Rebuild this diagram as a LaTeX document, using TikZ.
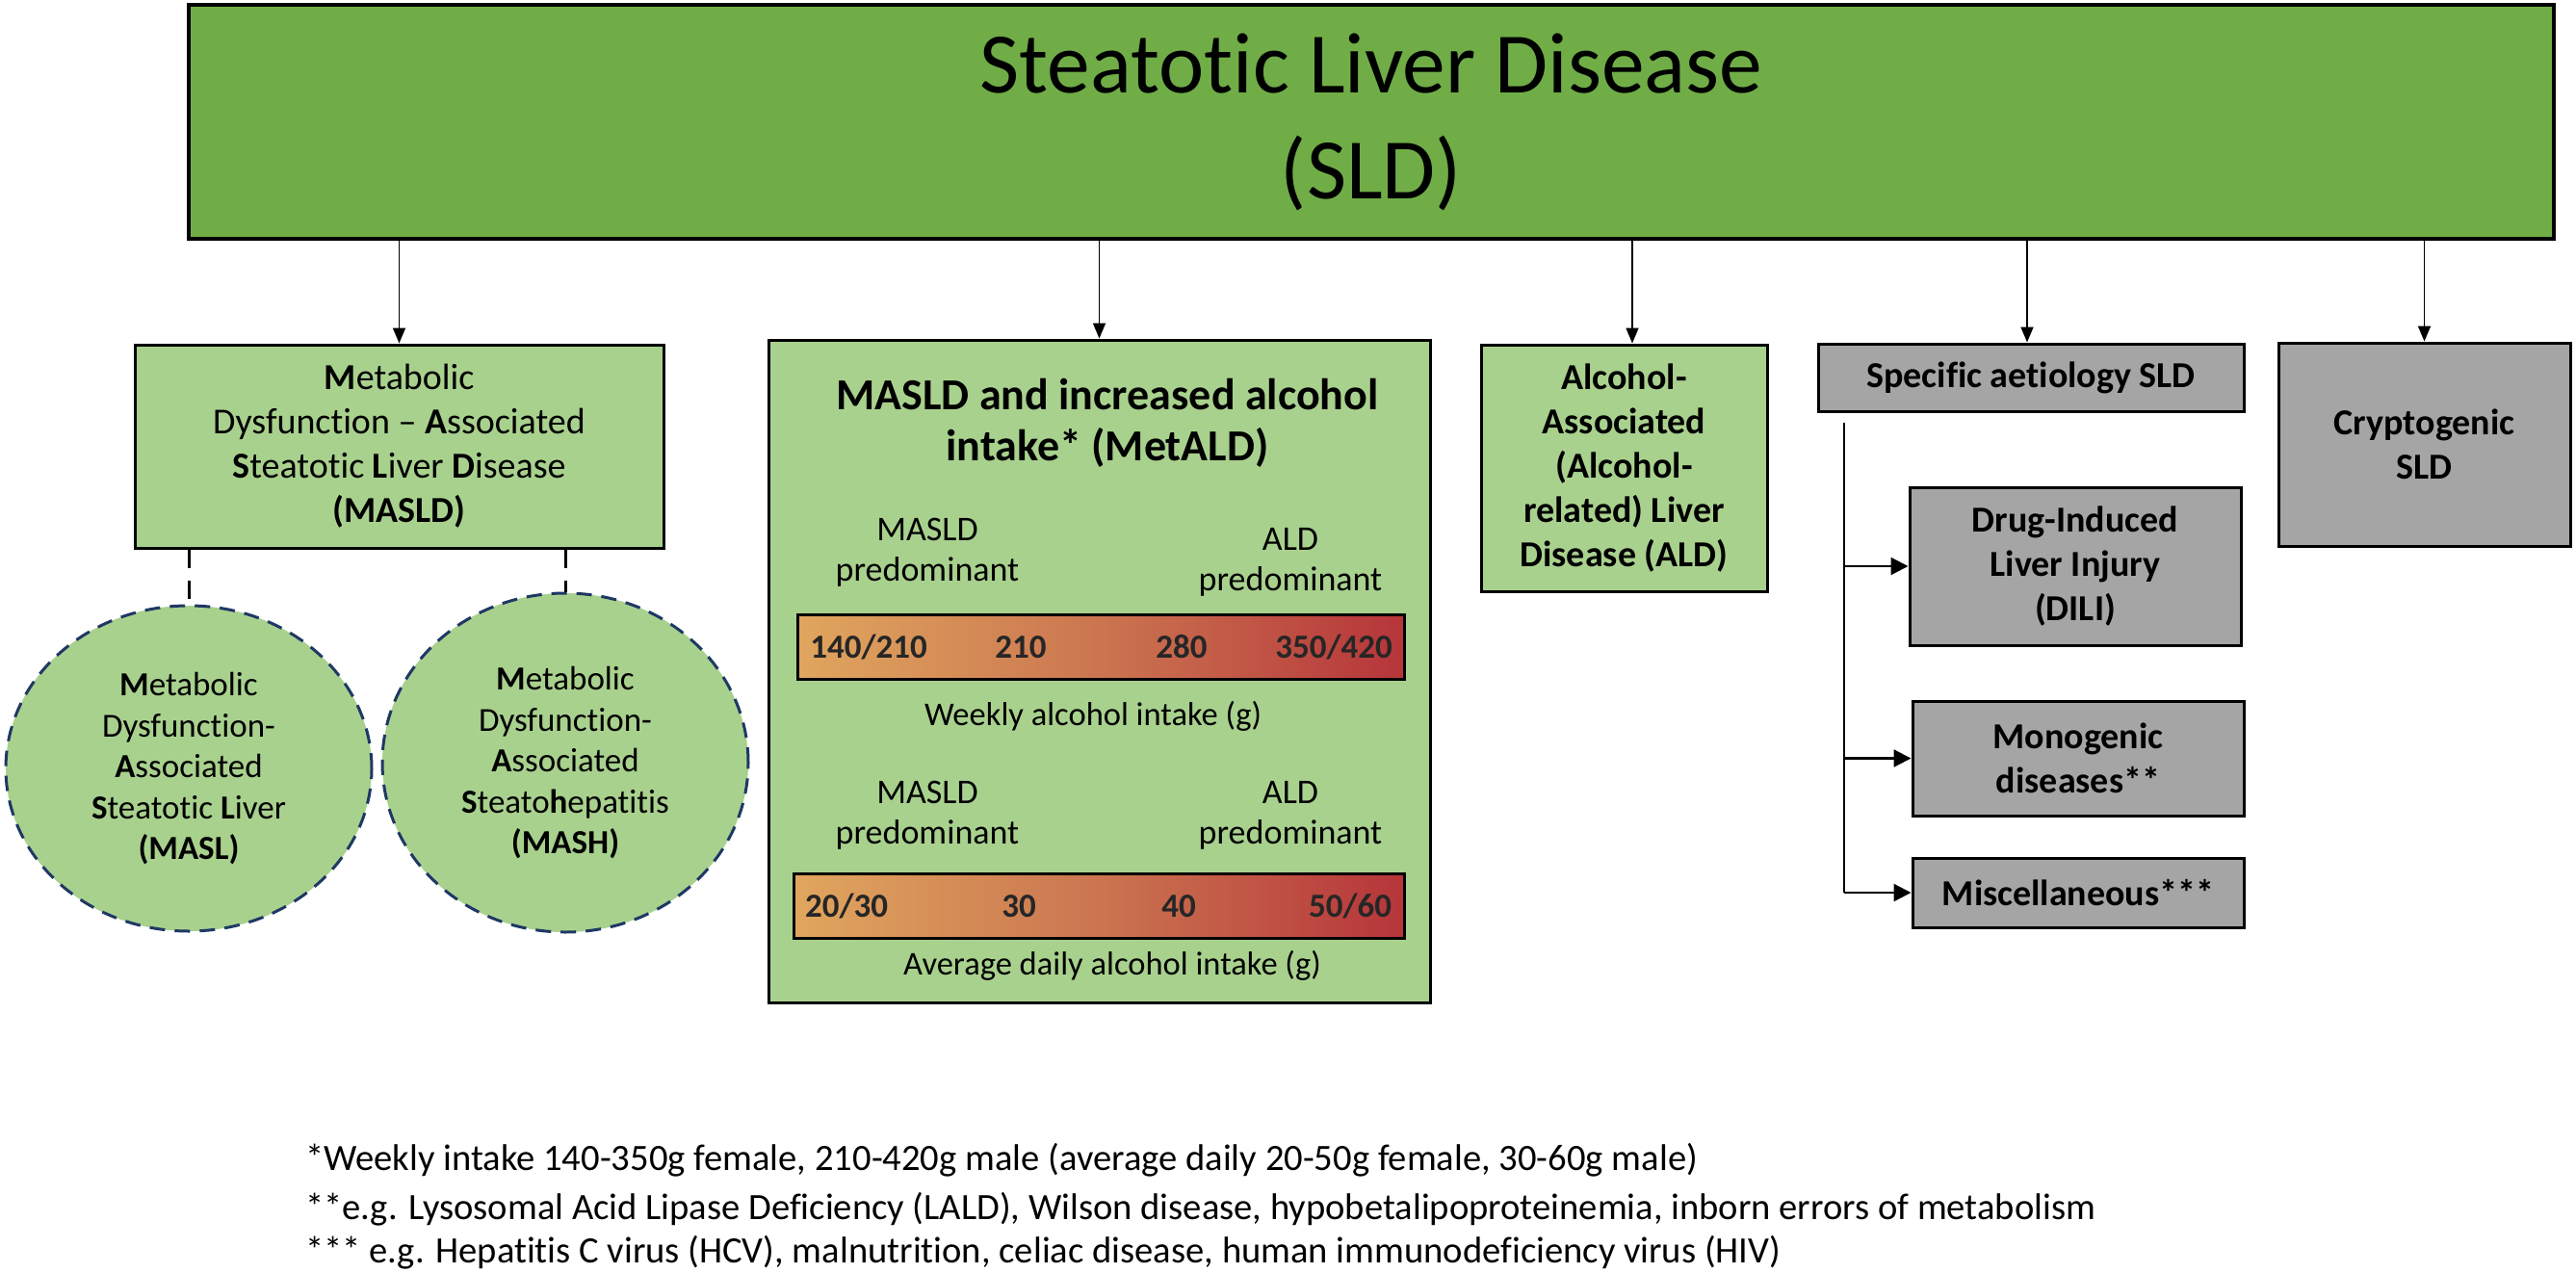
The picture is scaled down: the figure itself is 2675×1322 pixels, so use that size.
\documentclass[tikz,border=0pt]{standalone}
\usepackage{fontspec}
\setmainfont{Carlito}[Ligatures=NoCommon]
\usetikzlibrary{shapes.geometric,arrows.meta}
\definecolor{topgreen}{HTML}{70AD47}
\definecolor{lightgreen}{HTML}{A9D18E}
\definecolor{boxgray}{HTML}{A5A5A5}
\definecolor{navy}{HTML}{1F3864}
\definecolor{barleft}{HTML}{E0A65E}
\definecolor{barmid}{HTML}{CB7550}
\definecolor{barright}{HTML}{B6353A}
\definecolor{numtxt}{HTML}{262626}
\newcommand{\fsTop}{\fontsize{89.5}{110}\selectfont}
\newcommand{\fsBody}{\fontsize{38}{46}\selectfont}
\newcommand{\fsCirc}{\fontsize{35}{42.5}\selectfont}
\newcommand{\fsMtitle}{\fontsize{46}{53}\selectfont}
\newcommand{\fsPred}{\fontsize{36}{42}\selectfont}
\newcommand{\fsAxis}{\fontsize{34.5}{40}\selectfont}
\newcommand{\fsNum}{\fontsize{35}{40}\selectfont}
\newcommand{\fsFoot}{\fontsize{38.6}{48}\selectfont}
\begin{document}
\begin{tikzpicture}[x=1pt,y=-1pt,
  topbox/.style={draw=black, line width=4pt, fill=topgreen, rectangle, align=center, font=\fsTop, inner sep=0pt},
  greenbox/.style={draw=black, line width=3pt, fill=lightgreen, rectangle, align=center, font=\fsBody, inner sep=0pt},
  graybox/.style={draw=black, line width=3pt, fill=boxgray, rectangle, align=center, font=\fsBody\bfseries, inner sep=0pt},
  circ/.style={ellipse, draw=navy, line width=3pt, dash pattern=on 16pt off 10pt, fill=lightgreen, align=center, font=\fsCirc, inner sep=0pt},
  toparr/.style={draw=black, line width=1.8pt, -{Triangle[length=16pt,width=13pt]}},
  dashconn/.style={draw=black, line width=3pt, dash pattern=on 19pt off 13pt},
  branchline/.style={draw=black, line width=2.7pt},
  brarr/.style={draw=black, line width=2.2pt, -{Triangle[length=18pt,width=18pt]}},
  bar/.style={draw=black, line width=3pt, rectangle, left color=barleft, right color=barright, middle color=barmid, inner sep=0pt},
  num/.style={font=\fsNum\bfseries, text=numtxt, inner sep=0pt},
  pred/.style={font=\fsPred, align=center, inner sep=0pt},
  axis/.style={font=\fsAxis, inner sep=0pt},
  foot/.style={font=\fsFoot, anchor=base west, inner sep=0pt}
]
\useasboundingbox (0,0) rectangle (2675,1322);

% top box
\node[topbox, minimum width=2456pt, minimum height=243pt] (sld) at (1424,126.5) {Steatotic Liver Disease\\(SLD)};

% first level
\node[greenbox, minimum width=549pt, minimum height=211pt] (masld) at (414.5,463.5)
  {\textbf{M}etabolic\\Dysfunction – \textbf{A}ssociated\\\textbf{S}teatotic \textbf{L}iver \textbf{D}isease\\\textbf{(MASLD)}};
\node[greenbox, minimum width=687pt, minimum height=688pt] (metald) at (1141.5,697) {};
\node[greenbox, font=\fsBody\bfseries, minimum width=297pt, minimum height=256pt] (ald) at (1686.5,486)
  {Alcohol-\\Associated\\(Alcohol-\\related) Liver\\Disease (ALD)};
\node[graybox, minimum width=442pt, minimum height=70pt] (spec) at (2109,392) {Specific aetiology SLD};
\node[graybox, minimum width=303pt, minimum height=211pt] (crypt) at (2517.5,461.5) {Cryptogenic\\SLD};

% specific aetiology children
\node[graybox, minimum width=344pt, minimum height=164pt] (dili) at (2155,588) {Drug-Induced\\Liver Injury\\(DILI)};
\node[graybox, minimum width=344pt, minimum height=119pt] (mono) at (2158,787.5) {Monogenic\\diseases**};
\node[graybox, minimum width=344pt, minimum height=72pt] (misc) at (2158,927) {Miscellaneous***};

% circles
\node[circ, minimum width=380pt, minimum height=338pt] (masl) at (196,798)
  {\textbf{M}etabolic\\Dysfunction-\\\textbf{A}ssociated\\\textbf{S}teatotic \textbf{L}iver\\\textbf{(MASL)}};
\node[circ, minimum width=380pt, minimum height=352pt] (mash) at (587,792)
  {\textbf{M}etabolic\\Dysfunction-\\\textbf{A}ssociated\\\textbf{S}teato\textbf{h}epatitis\\\textbf{(MASH)}};

% MetALD contents
\node[font=\fsMtitle\bfseries, align=center, inner sep=0pt] (mtitle) at (1150,439.5) {MASLD and increased alcohol\\intake* (MetALD)};
\node[pred] (mp1) at (963,574) {MASLD\\predominant};
\node[pred] (ap1) at (1340,583.5) {ALD\\predominant};
\node[bar, minimum width=630pt, minimum height=67pt] (bar1) at (1143,671.5) {};
\node[num] (n11) at (902,672) {140/210};
\node[num] (n12) at (1060,672) {210};
\node[num] (n13) at (1227,672) {280};
\node[num] (n14) at (1385,672) {350/420};
\node[axis] (wk) at (1135,744) {Weekly alcohol intake (g)};
\node[pred] (mp2) at (963,847) {MASLD\\predominant};
\node[pred] (ap2) at (1340,847) {ALD\\predominant};
\node[bar, minimum width=634pt, minimum height=67pt] (bar2) at (1141,940.5) {};
\node[num] (n21) at (879,941) {20/30};
\node[num] (n22) at (1058,941) {30};
\node[num] (n23) at (1224,941) {40};
\node[num] (n24) at (1402,941) {50/60};
\node[axis] (avg) at (1155,1003) {Average daily alcohol intake (g)};

% arrows from top box
\draw[toparr] (sld.south -| masld.north) -- (masld.north);
\draw[toparr] (sld.south -| metald.north) -- (metald.north);
\draw[toparr] ([xshift=8.5pt]sld.south -| ald.north) -- ([xshift=8.5pt]ald.north);
\draw[toparr] ([xshift=-4pt]sld.south -| spec.north) -- ([xshift=-4pt]spec.north);
\draw[toparr] (sld.south -| crypt.north) -- (crypt.north);

% dashed connectors
\draw[dashconn] (masld.south -| masl.north) -- (masl.north);
\draw[dashconn] (masld.south -| mash.north) -- (mash.north);

% branch
\coordinate (br) at (1915,439);
\draw[branchline] (br) -- (br |- misc.west);
\draw[brarr] (br |- dili.west) -- (dili.west);
\draw[brarr] (br |- mono.west) -- (mono.west);
\draw[brarr] (br |- misc.west) -- (misc.west);

% footnotes
\node[foot] (f1) at (317,1215) {*Weekly intake 140-350g female, 210-420g male (average daily 20-50g female, 30-60g male)};
\node[foot] (f2) at (317,1266) {**e.g. Lysosomal Acid Lipase Deficiency (LALD), Wilson disease, hypobetalipoproteinemia, inborn errors of metabolism};
\node[foot] (f3) at (317,1311) {*** e.g. Hepatitis C virus (HCV), malnutrition, celiac disease, human immunodeficiency virus (HIV)};
\end{tikzpicture}
\end{document}
